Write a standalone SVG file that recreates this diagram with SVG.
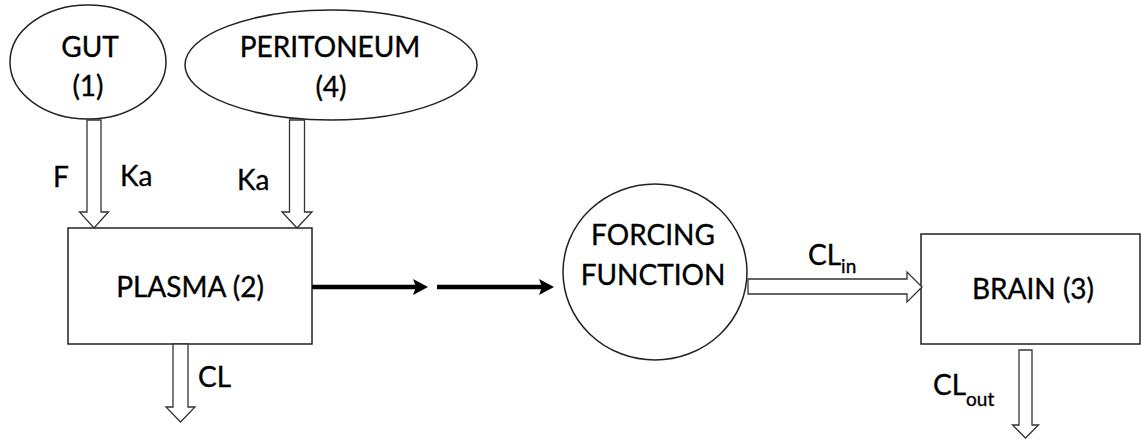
<svg xmlns="http://www.w3.org/2000/svg" width="1141" height="440" viewBox="0 0 1141 440">
<style>
.shape{fill:#fff;stroke:#222;stroke-width:1.5}
.hollow{fill:#fff;stroke:#333;stroke-width:1.3;stroke-linejoin:miter}
.thick{stroke:#000;stroke-width:4.5;fill:none}
.head{fill:#000;stroke:none}
text{font-family:Lato,"Liberation Sans",sans-serif;font-size:28px;fill:#000;stroke:#000;stroke-width:0.35}
.mid{text-anchor:middle}
.sub{font-size:19px}
</style>
<rect width="1141" height="440" fill="#fff"/>
<g id="gut">
<ellipse class="shape" cx="88" cy="62" rx="78" ry="57"/>
<text class="mid" x="90" y="57">GUT</text>
<text class="mid" x="88" y="96">(1)</text>
</g>
<g id="peritoneum">
<ellipse class="shape" cx="331" cy="65" rx="146" ry="55"/>
<text class="mid" x="330" y="57">PERITONEUM</text>
<text class="mid" x="331" y="97">(4)</text>
</g>
<g id="plasma">
<rect class="shape" x="68" y="228" width="244" height="116"/>
<text class="mid" x="190" y="297">PLASMA (2)</text>
</g>
<g id="forcing">
<ellipse class="shape" cx="655" cy="272" rx="92" ry="88"/>
<text class="mid" x="653" y="245">FORCING</text>
<text class="mid" x="653" y="285">FUNCTION</text>
</g>
<g id="brain">
<rect class="shape" x="921" y="234" width="219" height="110"/>
<text class="mid" x="1033" y="299">BRAIN (3)</text>
</g>
<g id="connectors">
<polygon class="hollow" points="87,120 101,120 101,212 108.5,212 94,228 79.5,212 87,212"/>
<polygon class="hollow" points="289.5,120 304.5,120 304.5,212 312,212 297,228 282,212 289.5,212"/>
<polygon class="hollow" points="173,344 188,344 188,407 195,407 180.5,422 166,407 173,407"/>
<polygon class="hollow" points="748,279 907,279 907,272 922,287 907,302 907,294 748,294"/>
<polygon class="hollow" points="1019,350 1032,350 1032,425 1038.5,425 1025.5,438 1012.5,425 1019,425"/>
<line class="thick" x1="312" y1="287" x2="418" y2="287"/>
<path class="head" d="M413,279 L428,287 L413,295 L416,287 Z"/>
<line class="thick" x1="437" y1="287" x2="544" y2="287"/>
<path class="head" d="M539,279 L554,287 L539,295 L542,287 Z"/>
<text x="53" y="187">F</text>
<text x="120" y="186">Ka</text>
<text x="237" y="190">Ka</text>
<text x="198" y="387">CL</text>
<text x="808" y="265">CL<tspan class="sub" dy="8">in</tspan></text>
<text x="933" y="395">CL<tspan class="sub" dy="11">out</tspan></text>
</g>
</svg>
